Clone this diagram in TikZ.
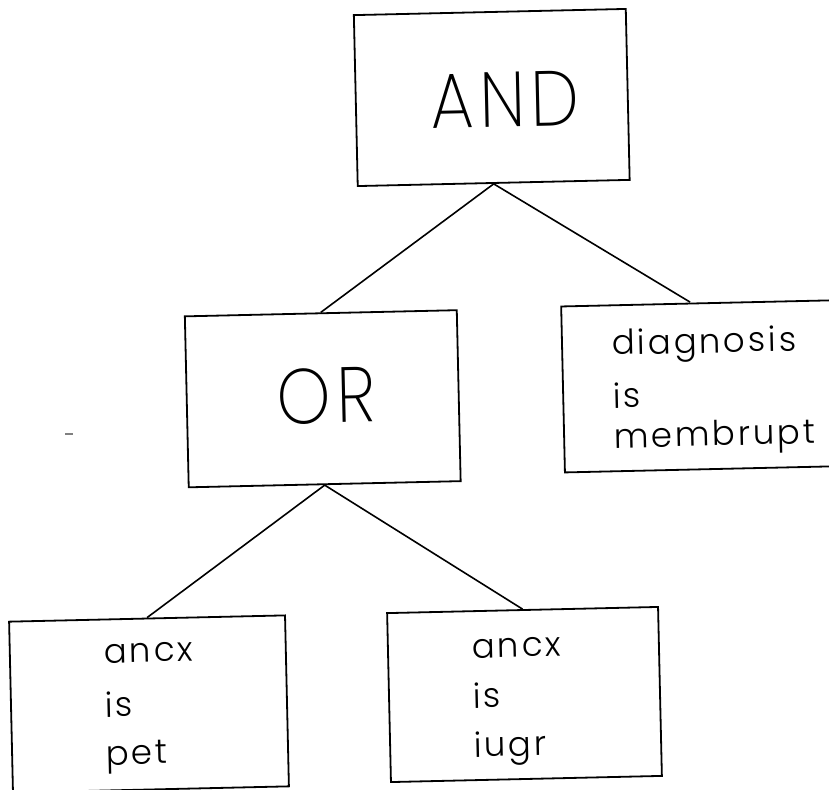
\documentclass[tikz,border=0pt]{standalone}
\usepackage{fontspec}
\setmainfont{Poppins}[UprightFont=* Light, LetterSpace=8]
\newfontfamily\thinfont{Poppins}[UprightFont=* ExtraLight, LetterSpace=8]
\begin{document}
\begin{tikzpicture}[x=1pt,y=-1pt,
  box/.style={draw, line width=1.8pt, inner sep=0pt, minimum height=171pt, minimum width=272pt, rotate=1.3},
  big/.style={font=\thinfont\fontsize{78}{80}\selectfont, anchor=base, inner sep=0pt, rotate=1.3},
  txt/.style={font=\fontsize{34}{51}\selectfont, anchor=base west, inner sep=0pt, rotate=1.3},
  link/.style={line width=1.6pt}]
\useasboundingbox (0,0) rectangle (829,789);
% rule tree boxes
\node[box] (and) at (491.75,97.5) {};
\node[box] (or) at (322.75,398.75) {};
\node[box, minimum width=304pt, minimum height=166pt] (diag) at (715,386) {};
\node[box, minimum width=276pt] (pet) at (149,704) {};
\node[box, minimum width=271pt, minimum height=169pt] (iugr) at (524.5,694.5) {};
% box texts
\node[big] (andtxt) at (506,127) {\scalebox{0.88}[1]{AND}};
\node[big] (ortxt) at (327,423) {\scalebox{0.88}[1]{OR}};
\node[txt] (diag1) at (612,355) {diagnosis};
\node[txt] (diag2) at (613,408) {is};
\node[txt] (diag3) at (614,448) {membrupt};
\node[txt] (pet1) at (104,663) {ancx};
\node[txt] (pet2) at (105,717) {is};
\node[txt] (pet3) at (106,765) {pet};
\node[txt] (iugr1) at (472,658) {ancx};
\node[txt] (iugr2) at (473,708) {is};
\node[txt] (iugr3) at (474,757) {iugr};
% connectors
\draw[link] (and.south) -- (or.north);
\draw[link] (and.south) -- ([xshift=-23pt]diag.north);
\draw[link] (or.south) -- (pet.north);
\draw[link] (or.south) -- (iugr.north);
% small stray stroke at the left
\draw[line width=1.5pt, gray] (65,434) -- (73,434);
\end{tikzpicture}
\end{document}
